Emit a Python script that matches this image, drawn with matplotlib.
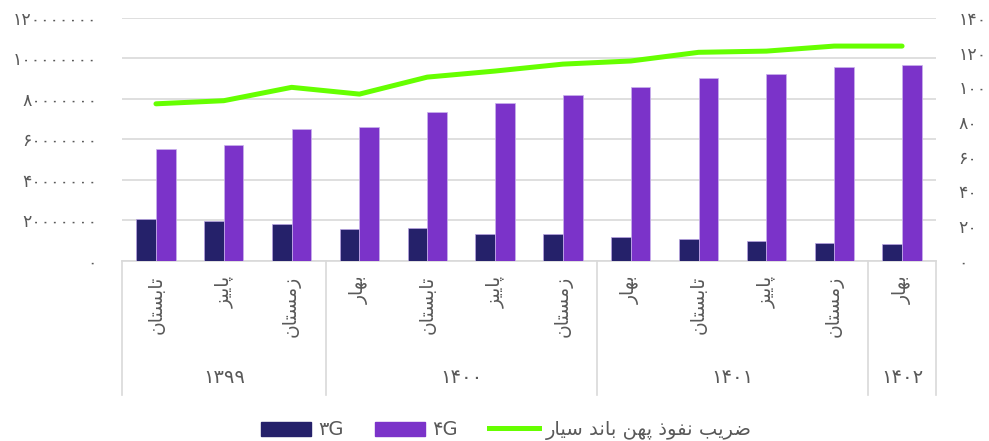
import numpy as np
import matplotlib.pyplot as plt
from matplotlib.patches import Patch
from matplotlib.lines import Line2D
from matplotlib.transforms import blended_transform_factory

# --- data ---
seasons = ['تابستان', 'پاییز', 'زمستان',
           'بهار', 'تابستان', 'پاییز', 'زمستان',
           'بهار', 'تابستان', 'پاییز', 'زمستان',
           'بهار']
years = ['۱۳۹۹', '۱۴۰۰', '۱۴۰۱', '۱۴۰۲']
year_sizes = [3, 4, 4, 1]
subs_3g = [20.5e6, 19.8e6, 18.2e6, 15.7e6, 16.2e6, 13.2e6, 13.2e6,
           11.6e6, 10.6e6, 9.6e6, 8.6e6, 8.1e6]
subs_4g = [55.1e6, 57.1e6, 65.2e6, 66.2e6, 73.6e6, 78.1e6, 82.1e6,
           85.8e6, 90.4e6, 92.3e6, 95.9e6, 97.0e6]
penetration = [90.5, 92.3, 100.0, 96.1, 105.9, 109.4, 113.4,
               115.2, 120.2, 120.9, 123.8, 123.8]
legend_labels = ['۳G', '۴G', 'ضریب نفوذ پهن باند سیار']

c3g = '#25216a'
c4g = '#7b33c9'
cline = '#66ff00'
grey = '#595959'

# --- minimal Persian shaping (matplotlib has no Arabic shaping) ---
FORMS = {
    'ا': ('\uFE8D', '\uFE8E', None, None),
    'ب': ('\uFE8F', '\uFE90', '\uFE91', '\uFE92'),
    'ت': ('\uFE95', '\uFE96', '\uFE97', '\uFE98'),
    'د': ('\uFEA9', '\uFEAA', None, None),
    'ذ': ('\uFEAB', '\uFEAC', None, None),
    'ر': ('\uFEAD', '\uFEAE', None, None),
    'ز': ('\uFEAF', '\uFEB0', None, None),
    'س': ('\uFEB1', '\uFEB2', '\uFEB3', '\uFEB4'),
    'ض': ('\uFEBD', '\uFEBE', '\uFEBF', '\uFEC0'),
    'ف': ('\uFED1', '\uFED2', '\uFED3', '\uFED4'),
    'م': ('\uFEE1', '\uFEE2', '\uFEE3', '\uFEE4'),
    'ن': ('\uFEE5', '\uFEE6', '\uFEE7', '\uFEE8'),
    'ه': ('\uFEE9', '\uFEEA', '\uFEEB', '\uFEEC'),
    'و': ('\uFEED', '\uFEEE', None, None),
    'پ': ('\uFB56', '\uFB57', '\uFB58', '\uFB59'),
    'ی': ('\uFBFC', '\uFBFD', '\uFBFE', '\uFBFF'),
}


def fa(text):
    out = []
    for i, ch in enumerate(text):
        if ch not in FORMS:
            out.append(ch)
            continue
        iso, fin, ini, med = FORMS[ch]
        prev = text[i - 1] if i > 0 else ''
        nxt = text[i + 1] if i + 1 < len(text) else ''
        jp = prev in FORMS and FORMS[prev][2] is not None
        jn = ini is not None and nxt in FORMS
        if jp and jn:
            out.append(med)
        elif jp:
            out.append(fin)
        elif jn:
            out.append(ini)
        else:
            out.append(iso)
    return ''.join(reversed(out))


def fa_num(v):
    return str(int(round(v))).translate(str.maketrans('0123456789', '۰۱۲۳۴۵۶۷۸۹'))


plt.rcParams['font.family'] = ['DejaVu Sans']

fig = plt.figure(figsize=(9.89, 4.41), dpi=100)
ax = fig.add_axes([0.1234, 0.4088, 0.8230, 0.5504])
ax2 = ax.twinx()

x = np.arange(len(seasons))
w = 0.29
ax.bar(x - w / 2, subs_3g, w, color=c3g, edgecolor='#b9a3e3', linewidth=0.5, zorder=3)
ax.bar(x + w / 2, subs_4g, w, color=c4g, edgecolor='#c9b3ec', linewidth=0.5, zorder=3)
ax2.plot(x, penetration, color=cline, lw=3.6, solid_capstyle='round', solid_joinstyle='round')

ax.set_xlim(-0.5, len(seasons) - 0.5)
ax.set_ylim(0, 120e6)
ax2.set_ylim(0, 140)
ax.set_yticks(np.arange(0, 120e6 + 1, 20e6))
ax2.set_yticks(np.arange(0, 141, 20))
ax.set_yticklabels([fa_num(v) for v in ax.get_yticks()])
ax2.set_yticklabels([fa_num(v) for v in ax2.get_yticks()])
ax.yaxis.grid(True, color='#d9d9d9', lw=1.2, zorder=0)
ax.set_axisbelow(True)
ax.set_xticks([])

for a in (ax, ax2):
    for s in ('top', 'left', 'right'):
        a.spines[s].set_visible(False)
    a.tick_params(axis='y', length=0, labelsize=12.5, colors=grey)
ax2.spines['bottom'].set_visible(False)
ax.spines['bottom'].set_color('#d9d9d9')
ax.spines['bottom'].set_linewidth(1.2)
ax.tick_params(axis='y', pad=18)
ax2.tick_params(axis='y', pad=16)

# multi-level category axis
tr = blended_transform_factory(ax.transData, fig.transFigure)
for i, s in enumerate(seasons):
    ax.text(i, 0.375, fa(s), transform=tr, rotation=90, ha='center', va='top',
            fontsize=13.5, color=grey)
bounds = np.concatenate([[0], np.cumsum(year_sizes)]) - 0.5
for b in bounds:
    ax.add_line(Line2D([b, b], [0.104, 0.4088], transform=tr, color='#d9d9d9',
                       lw=1.2, clip_on=False))
for y, lo, hi in zip(years, bounds[:-1], bounds[1:]):
    ax.text((lo + hi) / 2, 0.143, y, transform=tr, ha='center', va='center',
            fontsize=14, color=grey)

handles = [Patch(color=c3g), Patch(color=c4g), Line2D([], [], color=cline, lw=3.6)]
fig.legend(handles, [legend_labels[0], legend_labels[1], fa(legend_labels[2])],
           loc='center', bbox_to_anchor=(0.512, 0.024), ncol=3, frameon=False,
           fontsize=14, labelcolor=grey, handlelength=2.6, handleheight=0.75,
           columnspacing=1.6, handletextpad=0.35)

fig.savefig('out.png', dpi=100)
